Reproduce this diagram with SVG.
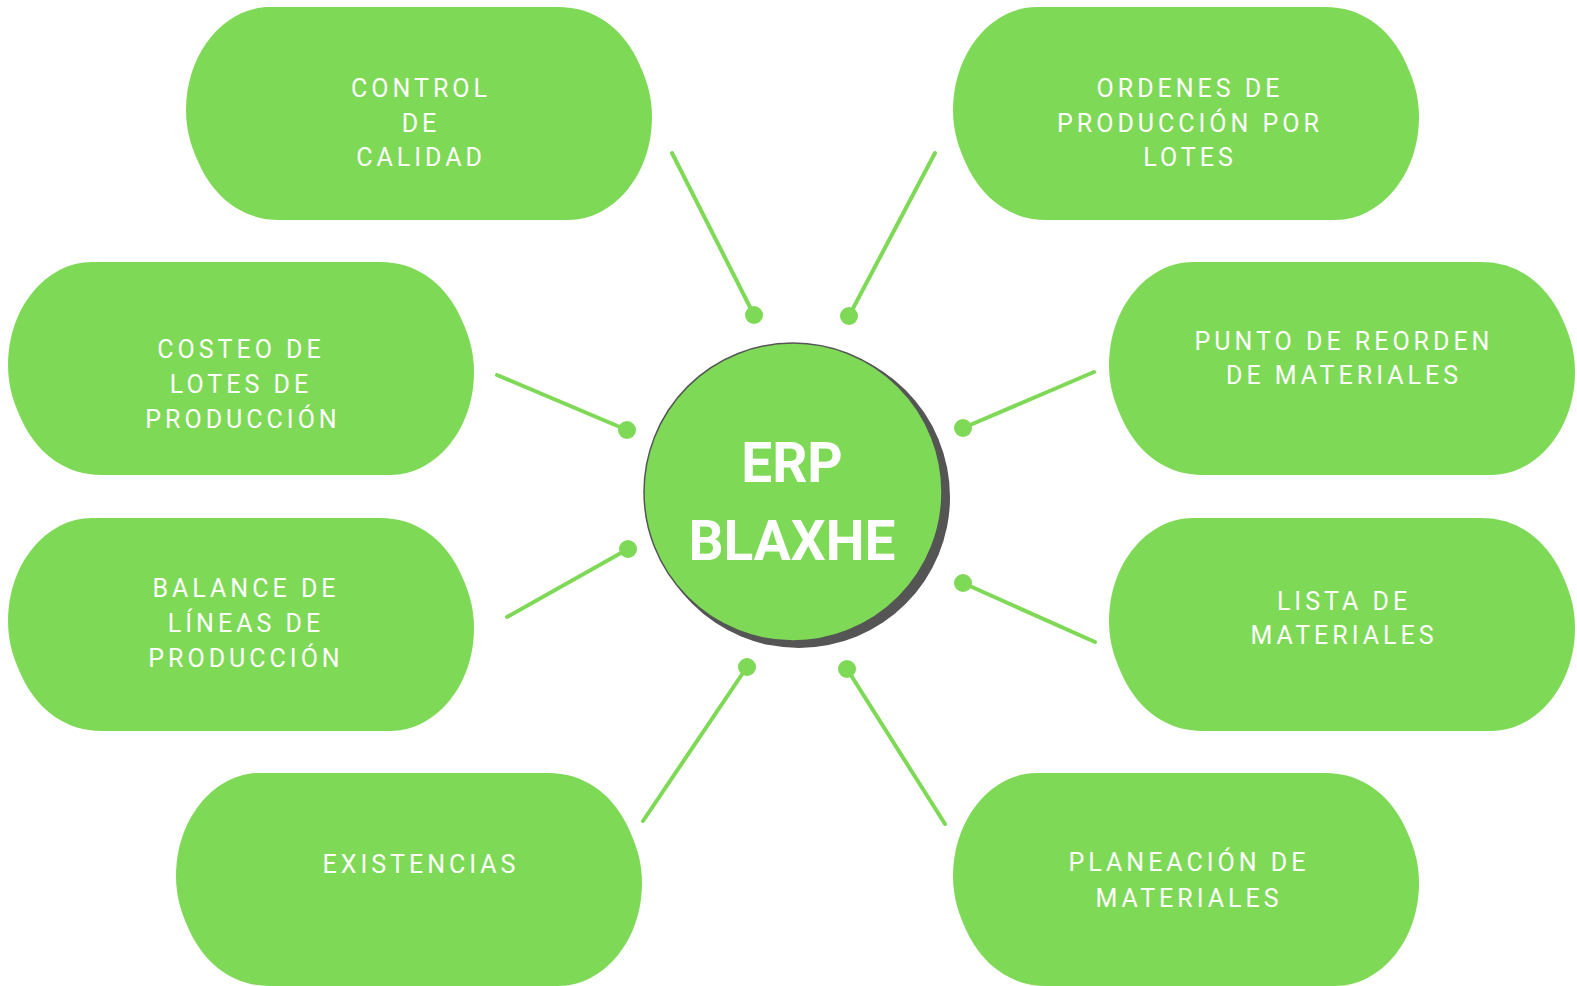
<svg xmlns="http://www.w3.org/2000/svg" xmlns:xlink="http://www.w3.org/1999/xlink" width="1577" height="986" viewBox="0 0 1577 986">
  <defs>
    <path id="pill" d="M84,0 L372,0 C408,0 434,20 450,50 C460,70 466,88 466,110 C466,167 428,213 382,213 L94,213 C58,213 32,193 16,163 C6,143 0,125 0,103 C0,46 38,0 84,0 Z"/>
    <style>
      .pill { fill: #7ED957; }
      .lbl { font-family: Roboto, "Liberation Sans", sans-serif; font-size: 25px; letter-spacing: 4px; fill: #FFFFFF; text-anchor: middle; }
      .conn { stroke: #7ED957; stroke-width: 4; stroke-linecap: round; fill: none; }
      .dot { fill: #7ED957; }
      .hub { font-family: Roboto, "Liberation Sans", sans-serif; font-weight: 700; font-size: 55px; fill: #FFFFFF; text-anchor: middle; }
    </style>
  </defs>
  <rect width="1577" height="986" fill="#FFFFFF"/>

  <g id="connectors">
    <line class="conn" x1="672" y1="153" x2="754" y2="315"/>
    <circle class="dot" cx="754" cy="315" r="9"/>
    <line class="conn" x1="935" y1="153" x2="849" y2="316"/>
    <circle class="dot" cx="849" cy="316" r="9"/>
    <line class="conn" x1="497" y1="375" x2="627" y2="430"/>
    <circle class="dot" cx="627" cy="430" r="9"/>
    <line class="conn" x1="1094" y1="372" x2="963" y2="428"/>
    <circle class="dot" cx="963" cy="428" r="9"/>
    <line class="conn" x1="507" y1="617" x2="628" y2="549"/>
    <circle class="dot" cx="628" cy="549" r="9"/>
    <line class="conn" x1="1095" y1="642" x2="963" y2="583"/>
    <circle class="dot" cx="963" cy="583" r="9"/>
    <line class="conn" x1="643" y1="821" x2="747" y2="667"/>
    <circle class="dot" cx="747" cy="667" r="9"/>
    <line class="conn" x1="945" y1="824" x2="847" y2="669"/>
    <circle class="dot" cx="847" cy="669" r="9"/>
  </g>

  <g id="hub">
    <circle cx="799" cy="497" r="151" fill="#555555"/>
    <circle cx="793" cy="492" r="149" fill="#7ED957" stroke="#555555" stroke-width="1.5"/>
    <text class="hub" x="792" y="482">ERP</text>
    <text class="hub" x="792" y="560">BLAXHE</text>
  </g>

  <g id="node-control-calidad">
    <use href="#pill" xlink:href="#pill" class="pill" x="186" y="7"/>
    <text class="lbl" x="421" y="97">CONTROL</text>
    <text class="lbl" x="421" y="132">DE</text>
    <text class="lbl" x="421" y="166">CALIDAD</text>
  </g>

  <g id="node-ordenes">
    <use href="#pill" xlink:href="#pill" class="pill" x="953" y="7"/>
    <text class="lbl" x="1190" y="97">ORDENES DE</text>
    <text class="lbl" x="1190" y="132">PRODUCCIÓN POR</text>
    <text class="lbl" x="1190" y="166">LOTES</text>
  </g>

  <g id="node-costeo">
    <use href="#pill" xlink:href="#pill" class="pill" x="8" y="262"/>
    <text class="lbl" x="241" y="358">COSTEO DE</text>
    <text class="lbl" x="241" y="393">LOTES DE</text>
    <text class="lbl" x="243" y="428">PRODUCCIÓN</text>
  </g>

  <g id="node-punto-reorden">
    <use href="#pill" xlink:href="#pill" class="pill" x="1109" y="262"/>
    <text class="lbl" x="1344" y="350">PUNTO DE REORDEN</text>
    <text class="lbl" x="1344" y="384">DE MATERIALES</text>
  </g>

  <g id="node-balance">
    <use href="#pill" xlink:href="#pill" class="pill" x="8" y="518"/>
    <text class="lbl" x="246" y="597">BALANCE DE</text>
    <text class="lbl" x="246" y="632">LÍNEAS DE</text>
    <text class="lbl" x="246" y="667">PRODUCCIÓN</text>
  </g>

  <g id="node-lista">
    <use href="#pill" xlink:href="#pill" class="pill" x="1109" y="518"/>
    <text class="lbl" x="1344" y="610">LISTA DE</text>
    <text class="lbl" x="1344" y="644">MATERIALES</text>
  </g>

  <g id="node-existencias">
    <use href="#pill" xlink:href="#pill" class="pill" x="176" y="773"/>
    <text class="lbl" x="421" y="873">EXISTENCIAS</text>
  </g>

  <g id="node-planeacion">
    <use href="#pill" xlink:href="#pill" class="pill" x="953" y="773"/>
    <text class="lbl" x="1189" y="871">PLANEACIÓN DE</text>
    <text class="lbl" x="1189" y="907">MATERIALES</text>
  </g>
</svg>
